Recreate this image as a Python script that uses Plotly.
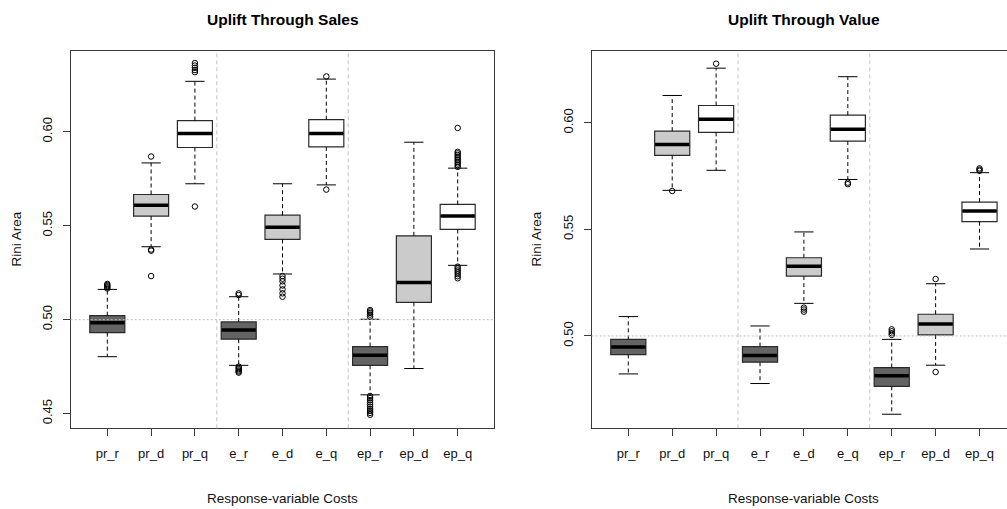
import plotly.graph_objects as go

# ---------------- data ----------------
categories = ["pr_r", "pr_d", "pr_q", "e_r", "e_d", "e_q", "ep_r", "ep_d", "ep_q"]
positions = [1, 2, 3, 4, 5, 6, 7, 8, 9]

# Panel 1: Uplift Through Sales
sales_lower = [0.4803, 0.5388, 0.5723, 0.4757, 0.5243, 0.5717, 0.4600, 0.4740, 0.5289]
sales_q1 = [0.4931, 0.5551, 0.5916, 0.4896, 0.5427, 0.5919, 0.4757, 0.5092, 0.5480]
sales_median = [0.4984, 0.5609, 0.5990, 0.4945, 0.5492, 0.5990, 0.4811, 0.5198, 0.5551]
sales_q3 = [0.5021, 0.5666, 0.6059, 0.4988, 0.5556, 0.6064, 0.4857, 0.5446, 0.5613]
sales_upper = [0.5161, 0.5834, 0.6268, 0.5122, 0.5723, 0.6280, 0.5002, 0.5944, 0.5806]
sales_outliers = [
    [0.5166, 0.5172, 0.5178, 0.5184, 0.5190],
    [0.5868, 0.5373, 0.5367, 0.5232],
    [0.6365, 0.6352, 0.6340, 0.6328, 0.6317, 0.5602],
    [0.5140, 0.5131, 0.4750, 0.4744, 0.4737, 0.4730, 0.4724, 0.4718],
    [0.5232, 0.5218, 0.5204, 0.5182, 0.5161, 0.5140, 0.5122],
    [0.6294, 0.5692],
    [0.5051, 0.5044, 0.5036, 0.5027, 0.5016, 0.4594, 0.4583, 0.4572, 0.4560,
     0.4548, 0.4537, 0.4525, 0.4514, 0.4504, 0.4494],
    [],
    [0.6020, 0.5893, 0.5885, 0.5876, 0.5867, 0.5858, 0.5849, 0.5840, 0.5831,
     0.5822, 0.5813, 0.5282, 0.5272, 0.5262, 0.5252, 0.5242, 0.5231, 0.5220],
]

# Panel 2: Uplift Through Value
value_lower = [0.4822, 0.5683, 0.5777, 0.4777, 0.5153, 0.5734, 0.4633, 0.4863, 0.5408]
value_q1 = [0.4913, 0.5847, 0.5955, 0.4877, 0.5281, 0.5914, 0.4764, 0.5005, 0.5536]
value_median = [0.4948, 0.5898, 0.6017, 0.4909, 0.5327, 0.5970, 0.4813, 0.5056, 0.5586]
value_q3 = [0.4984, 0.5961, 0.6081, 0.4950, 0.5367, 0.6036, 0.4852, 0.5102, 0.5628]
value_upper = [0.5091, 0.6128, 0.6256, 0.5047, 0.5488, 0.6216, 0.4984, 0.5245, 0.5766]
value_outliers = [
    [],
    [0.5680],
    [0.6277],
    [],
    [0.5133, 0.5124, 0.5114],
    [0.5719, 0.5712],
    [0.5031, 0.5022, 0.5013, 0.5005],
    [0.5267, 0.4831],
    [0.5786, 0.5780, 0.5775],
]

panel_titles = ["Uplift Through Sales", "Uplift Through Value"]
x_title = "Response-variable Costs"
y_title = "Rini Area"
reference_value = 0.5
separators = [3.5, 6.5]

# ---------------- styles ----------------
fills = ["#646464", "#cbcbcb", "#ffffff"] * 3
BOXW = 0.8
CAPW = 0.44
FONT = "Liberation Sans, Arial, sans-serif"
TXT = "#111111"
FRAME = "#3a3a3a"

fig = go.Figure()


def add_panel(xa, ya, lower, q1, med, q3, upper, outl):
    xref = xa
    yref = ya
    # boxes grouped by fill colour
    for fc in sorted(set(fills)):
        idx = [i for i, f in enumerate(fills) if f == fc]
        fig.add_trace(go.Box(
            x=[positions[i] for i in idx],
            q1=[q1[i] for i in idx],
            median=[med[i] for i in idx],
            q3=[q3[i] for i in idx],
            lowerfence=[q1[i] for i in idx],
            upperfence=[q3[i] for i in idx],
            width=BOXW, whiskerwidth=0,
            fillcolor=fc, line=dict(color="#2a2a2a", width=1.2),
            boxpoints=False, hoverinfo="skip", showlegend=False,
            xaxis=xref, yaxis=yref,
        ))
    # dashed whiskers
    wx, wy = [], []
    for p, lo, a, b, hi in zip(positions, lower, q1, q3, upper):
        wx += [p, p, None, p, p, None]
        wy += [b, hi, None, a, lo, None]
    fig.add_trace(go.Scatter(x=wx, y=wy, mode="lines",
                             line=dict(color="#000000", width=1, dash="4px,3px"),
                             hoverinfo="skip", showlegend=False, xaxis=xref, yaxis=yref))
    # caps
    cx, cy = [], []
    for p, lo, hi in zip(positions, lower, upper):
        cx += [p - CAPW / 2, p + CAPW / 2, None, p - CAPW / 2, p + CAPW / 2, None]
        cy += [hi, hi, None, lo, lo, None]
    fig.add_trace(go.Scatter(x=cx, y=cy, mode="lines",
                             line=dict(color="#000000", width=1),
                             hoverinfo="skip", showlegend=False, xaxis=xref, yaxis=yref))
    # thick medians
    mx, my = [], []
    for p, m in zip(positions, med):
        mx += [p - BOXW / 2 + 0.01, p + BOXW / 2 - 0.01, None]
        my += [m, m, None]
    fig.add_trace(go.Scatter(x=mx, y=my, mode="lines",
                             line=dict(color="#000000", width=3.5),
                             hoverinfo="skip", showlegend=False, xaxis=xref, yaxis=yref))
    # outliers
    ox, oy = [], []
    for p, vals in zip(positions, outl):
        for v in vals:
            ox.append(p)
            oy.append(v)
    fig.add_trace(go.Scatter(x=ox, y=oy, mode="markers",
                             marker=dict(symbol="circle-open", size=5.5,
                                         color="#000000", line=dict(width=1)),
                             hoverinfo="skip", showlegend=False, xaxis=xref, yaxis=yref))


add_panel("x", "y", sales_lower, sales_q1, sales_median, sales_q3, sales_upper, sales_outliers)
add_panel("x2", "y2", value_lower, value_q1, value_median, value_q3, value_upper, value_outliers)

W, H = 1007, 509
top_px, bot_px = 50.7, 428.3
ydom = [1 - bot_px / H, 1 - top_px / H]

common_x = dict(tickmode="array", tickvals=positions, ticktext=categories,
                ticks="outside", ticklen=7, tickwidth=1, tickcolor=FRAME,
                showline=True, linecolor=FRAME, linewidth=1, mirror=True,
                showgrid=False, zeroline=False, ticklabelstandoff=6,
                tickfont=dict(family=FONT, size=13, color=TXT))
common_y = dict(dtick=0.05, tick0=0, tickformat=".2f", tickangle=-90,
                ticks="outside", ticklen=7, tickwidth=1, tickcolor=FRAME,
                showline=True, linecolor=FRAME, linewidth=1,
                showgrid=False, zeroline=False, ticklabelstandoff=6,
                tickfont=dict(family=FONT, size=13, color=TXT))

fig.update_layout(
    width=W, height=H,
    margin=dict(l=0, r=0, t=0, b=0),
    paper_bgcolor="white", plot_bgcolor="white",
    boxmode="overlay",
    xaxis=dict(domain=[70.7 / W, 494.3 / W], range=[0.164, 9.836], anchor="y", **common_x),
    yaxis=dict(domain=ydom, range=[0.4422, 0.6431], anchor="x", mirror=True, **common_y),
    xaxis2=dict(domain=[591.7 / W, 1.0], range=[0.166, 9.626], anchor="y2", **common_x),
    yaxis2=dict(domain=ydom, range=[0.4567, 0.6338], anchor="x2", mirror=False, **common_y),
)

shapes = []
for xr, yr in (("x", "y"), ("x2", "y2")):
    for s in separators:
        shapes.append(dict(type="line", xref=xr, yref=yr + " domain", x0=s, x1=s, y0=0, y1=1,
                           line=dict(color="#c4c4c4", width=1, dash="4px,3px"), layer="above"))
    shapes.append(dict(type="line", xref=xr + " domain", yref=yr, x0=0, x1=1,
                       y0=reference_value, y1=reference_value,
                       line=dict(color="#bdbdbd", width=1, dash="2px,2px"), layer="above"))
fig.update_layout(shapes=shapes)

centers = [(70.7 + 494.3) / 2 / W, (591.7 + 1016.0) / 2 / W]
ylab_x = [16 / W, 536 / W]
ann = []
for c, t, yl in zip(centers, panel_titles, ylab_x):
    ann.append(dict(x=c, y=1 - 20 / H, xref="paper", yref="paper", text="<b>%s</b>" % t,
                    showarrow=False, xanchor="center", yanchor="middle",
                    font=dict(family=FONT, size=15.5, color="#000000")))
    ann.append(dict(x=c, y=1 - 498 / H, xref="paper", yref="paper", text=x_title,
                    showarrow=False, xanchor="center", yanchor="middle",
                    font=dict(family=FONT, size=13.5, color=TXT)))
    ann.append(dict(x=yl, y=1 - 239.5 / H, xref="paper", yref="paper", text=y_title,
                    showarrow=False, xanchor="center", yanchor="middle", textangle=-90,
                    font=dict(family=FONT, size=13.5, color=TXT)))
fig.update_layout(annotations=ann)

fig.write_html("out.html",
               config={"displayModeBar": False, "staticPlot": True},
               post_script="document.body.style.margin='0px';document.body.style.padding='0px';")
